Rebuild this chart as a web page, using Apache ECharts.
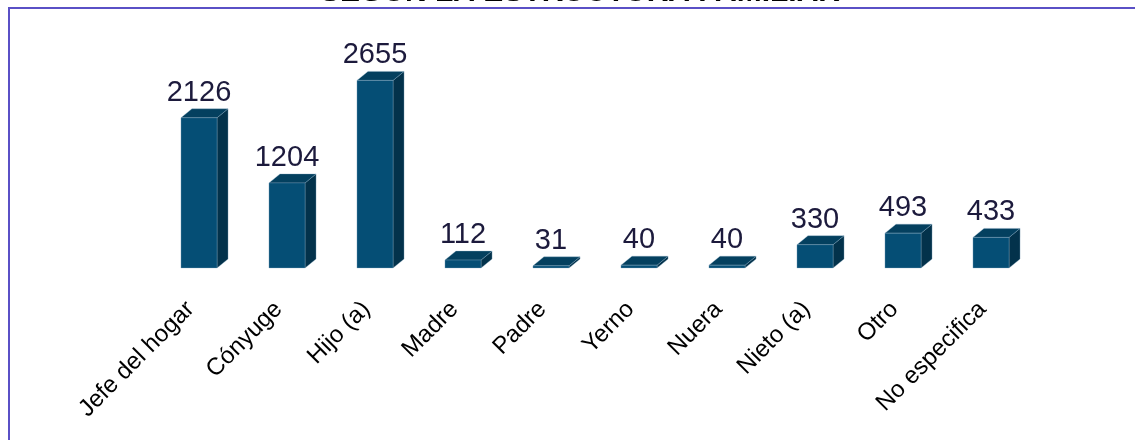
<!DOCTYPE html>
<html>
<head>
<meta charset="utf-8">
<script src="https://cdn.jsdelivr.net/npm/echarts@6/dist/echarts.min.js"></script>
<style>
  html, body { margin: 0; padding: 0; background: #fff; }
  #chart { width: 1135px; height: 440px; }
</style>
</head>
<body>
<div id="chart"></div>
<script>
// datos
const categories = ['Jefe del hogar', 'Cónyuge', 'Hijo (a)', 'Madre', 'Padre', 'Yerno', 'Nuera', 'Nieto (a)', 'Otro', 'No especifica'];
const values = [2126, 1204, 2655, 112, 31, 40, 40, 330, 493, 433];
const titleText = 'SEGÚN LA ESTRUCTURA FAMILIAR';

const FONT = '"Liberation Sans", Arial, sans-serif';
const FRONT = '#054e75';
const SIDE = '#03324b';
const TOP = '#04405f';

// barra "3D": cara frontal, lateral y superior
const renderBar = (params, api) => {
  const idx = api.value(0);
  const top = api.coord([idx, api.value(1)]);
  const base = api.coord([idx, 0]);
  const band = api.size([1, 0])[0];
  const w = band * 0.41;
  const dx = 11, dy = 9;
  const x0 = top[0] - w / 2, x1 = top[0] + w / 2;
  const yT = top[1], yB = base[1];
  const edge = { stroke: 'rgba(140,175,200,0.55)', lineWidth: 0.6 };
  return {
    type: 'group',
    children: [
      { type: 'polygon', shape: { points: [[x1, yT], [x1 + dx, yT - dy], [x1 + dx, yB - dy], [x1, yB]] },
        style: Object.assign({ fill: SIDE }, edge) },
      { type: 'polygon', shape: { points: [[x0, yT], [x0 + dx, yT - dy], [x1 + dx, yT - dy], [x1, yT]] },
        style: Object.assign({ fill: TOP }, edge) },
      { type: 'rect', shape: { x: x0, y: yT, width: w, height: yB - yT },
        style: Object.assign({ fill: FRONT }, edge) },
      { type: 'text', x: top[0], y: yT - dy - 16,
        style: { text: String(api.value(1)), fill: '#1c1a3c', font: '29px ' + FONT,
                 textAlign: 'center', textVerticalAlign: 'middle' } }
    ]
  };
};

const chart = echarts.init(document.getElementById('chart'));
chart.setOption({
  animation: false,
  grid: { left: 155, right: 100, top: 56, bottom: 172 },
  xAxis: {
    type: 'category',
    data: categories,
    axisLine: { show: false },
    axisTick: { show: false },
    axisLabel: { interval: 0, rotate: 45, margin: 46, fontSize: 24, color: '#000', fontFamily: FONT,
                 verticalAlign: 'bottom' }
  },
  yAxis: { type: 'value', min: 0, max: 3000, show: false, splitLine: { show: false } },
  graphic: [
    { type: 'rect', shape: { x: 9, y: 8, width: 1300, height: 600 },
      style: { fill: 'none', stroke: '#5a50c6', lineWidth: 2 } },
    { type: 'text', x: 580, y: 8,
      style: { text: titleText, font: 'bold 30px ' + FONT, fill: '#000',
               textAlign: 'center', textVerticalAlign: 'bottom' } }
  ],
  series: [{
    type: 'custom',
    renderItem: renderBar,
    encode: { x: 0, y: 1 },
    data: values.map((v, i) => [i, v])
  }]
});
</script>
</body>
</html>
